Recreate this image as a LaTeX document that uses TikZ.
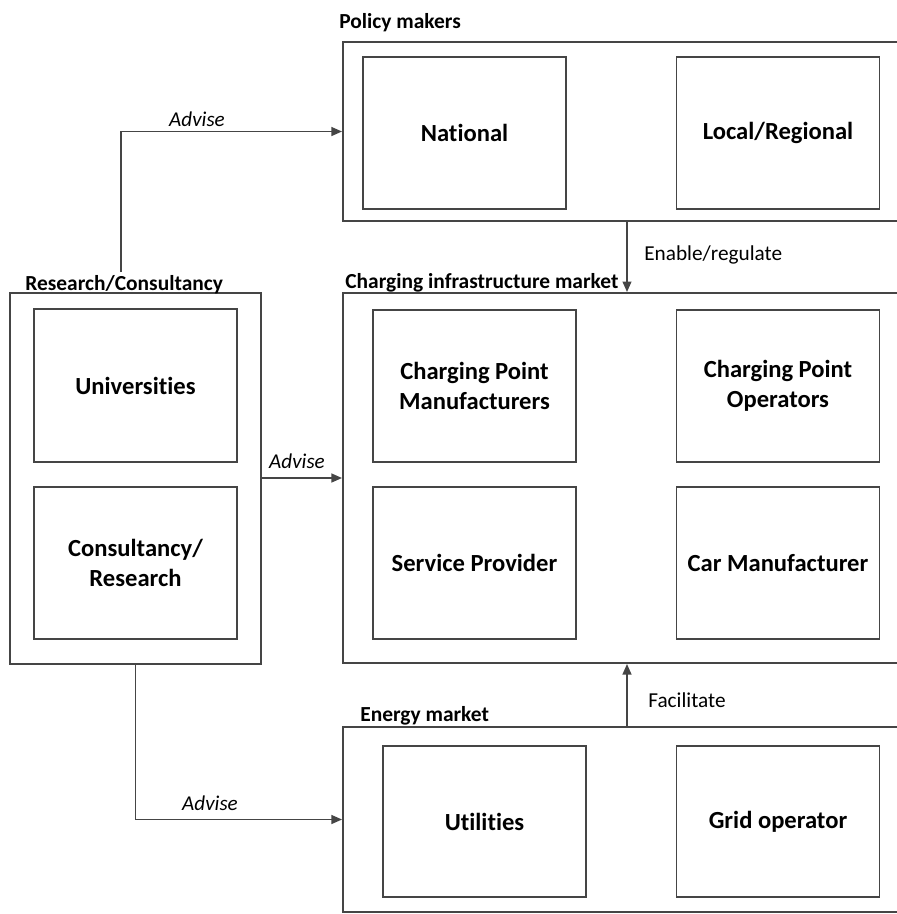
\documentclass[tikz,border=0pt]{standalone}
\usepackage{fontspec}
\setmainfont{Carlito}[Ligatures=NoCommon]
\usetikzlibrary{arrows.meta,calc}
\definecolor{ln}{HTML}{454545}
\tikzset{
  unit/.style={x=0.02cm,y=-0.02cm},
  outerbox/.style 2 args={draw=ln,line width=1.1pt,rectangle,inner sep=0pt,minimum width=#1*0.02cm,minimum height=#2*0.02cm},
  innerbox/.style={draw=ln,line width=1.1pt,rectangle,inner sep=0pt,minimum width=203*0.02cm,minimum height=152*0.02cm,align=center,font=\fontsize{14}{17}\selectfont\bfseries},
  grouplabel/.style={anchor=base west,inner sep=0pt,font=\fontsize{12.2}{14}\selectfont\bfseries},
  edgelabel/.style={inner sep=0pt,font=\fontsize{12.1}{14}\selectfont},
  italabel/.style={inner sep=0pt,anchor=base,font=\fontsize{12}{14}\selectfont\itshape},
  conn/.style={draw=ln,line width=1pt,-{Triangle[length=6pt,width=5pt]}},
}
\begin{document}
\begin{tikzpicture}[unit]
\useasboundingbox (0,0) rectangle (897,914);
\clip (0,0) rectangle (897,914);
% containers
\node[outerbox={560}{179}] (pm) at (623,131.5) {};
\node[outerbox={251}{371}] (rc) at (135.5,478.5) {};
\node[outerbox={560}{370}] (cim) at (623,478) {};
\node[outerbox={560}{185}] (em) at (623,819.5) {};
% group labels
\node[grouplabel] (pml) at (339,28) {Policy makers};
\node[grouplabel] (rcl) at (25,290) {Research/Consultancy};
\node[grouplabel] (ciml) at (345,288) {Charging infrastructure market};
\node[grouplabel] (eml) at (360,721) {Energy market};
% inner boxes
\node[innerbox] (nat) at (464.5,133) {National};
\node[innerbox] (loc) at (778,133) {Local/Regional};
\node[innerbox,minimum height=153*0.02cm] (uni) at (135.5,385.5) {Universities};
\node[innerbox] (con) at (135.5,563) {Consultancy/\\Research};
\node[innerbox] (cpm) at (474.5,386) {Charging Point\\Manufacturers};
\node[innerbox] (cpo) at (778,386) {Charging Point\\Operators};
\node[innerbox] (sp) at (474.5,563) {Service Provider};
\node[innerbox] (car) at (778,563) {Car Manufacturer};
\node[innerbox,minimum height=151*0.02cm] (uti) at (484.5,821.5) {Utilities};
\node[innerbox,minimum height=151*0.02cm] (grid) at (778,821.5) {Grid operator};
% connectors
\coordinate (a1) at (121,272);
\coordinate (ax) at (627,0);
\draw[conn] (a1) |- (pm.west);
\draw[conn] (rc.east |- cim.west) -- (cim.west);
\draw[conn] (rc.south) |- (em.west);
\draw[conn] (pm.south -| ax) -- (cim.north -| ax);
\draw[conn] (em.north -| ax) -- (cim.south -| ax);
% edge labels
\node[italabel] (l1) at (197,126) {Advise};
\node[italabel] (l2) at (297,468) {Advise};
\node[italabel] (l3) at (210,810) {Advise};
\node[edgelabel,anchor=base west] (l4) at (644,260) {Enable/regulate};
\node[edgelabel,anchor=base west] (l5) at (648,707) {Facilitate};
\end{tikzpicture}
\end{document}
